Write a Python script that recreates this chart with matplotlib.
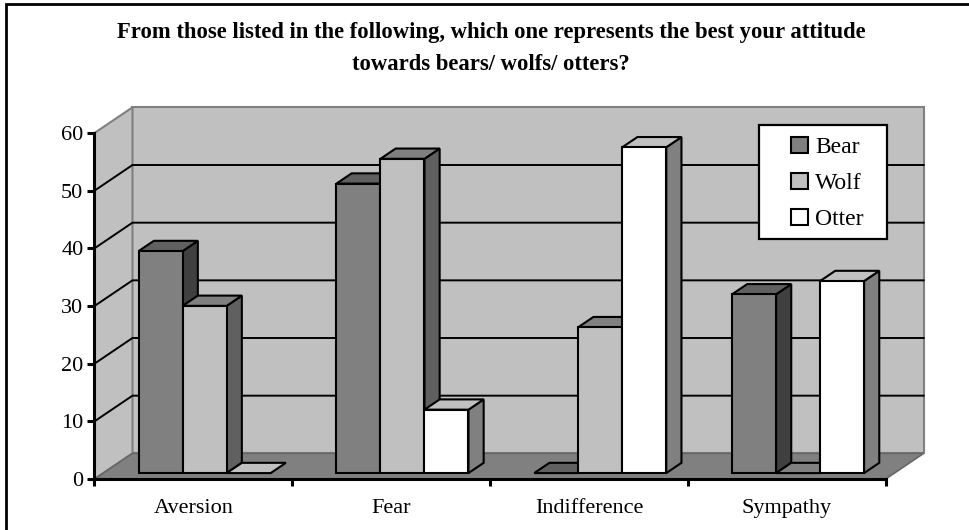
import numpy as np
import matplotlib
matplotlib.use("Agg")
import matplotlib.pyplot as plt
from matplotlib.lines import Line2D
from matplotlib.patches import Polygon, Rectangle

categories = ["Aversion", "Fear", "Indifference", "Sympathy"]
series_names = ["Bear", "Wolf", "Otter"]
bear = [38.5, 50.2, 0, 31]
wolf = [29, 54.5, 25.3, 0]
otter = [0, 11, 56.5, 33.3]
y_ticks = [0, 10, 20, 30, 40, 50, 60]

title = ("From those listed in the following, which one represents the best your attitude\n"
         "towards bears/ wolfs/ otters?")

# front, top and side shades for each series
front_colors = ["#808080", "#c0c0c0", "#ffffff"]
top_colors = ["#606060", "#808080", "#c0c0c0"]
side_colors = ["#404040", "#606060", "#808080"]

# how far the back of the chart box is shifted, in data units
DEPTH_X = 0.192
DEPTH_Y = 4.45
BAR_WIDTH = 0.2225
GROUP_START = 0.179
BAR_FRONT = 0.23
BAR_BACK = 0.63

W, H = 970, 530

plt.rcParams["font.family"] = ["Liberation Serif", "DejaVu Serif"]


def project(x, y, d):
    """Shift a point of the chart box back by depth d (0 front, 1 back)"""
    return (x + d * DEPTH_X, y + d * DEPTH_Y)


def fx(px):
    return px / W


def fy(py):
    return 1 - py / H


def draw_bar(ax, left, value, color_index, z):
    right = left + BAR_WIDTH
    style = dict(edgecolor="black", linewidth=1.5, joinstyle="miter", zorder=z)
    if value > 0:
        side = [project(right, 0, BAR_FRONT), project(right, 0, BAR_BACK),
                project(right, value, BAR_BACK), project(right, value, BAR_FRONT)]
        ax.add_patch(Polygon(side, facecolor=side_colors[color_index], clip_on=False, **style))
    top = [project(left, value, BAR_FRONT), project(right, value, BAR_FRONT),
           project(right, value, BAR_BACK), project(left, value, BAR_BACK)]
    ax.add_patch(Polygon(top, facecolor=top_colors[color_index], clip_on=False, **style))
    if value > 0:
        front = [project(left, 0, BAR_FRONT), project(right, 0, BAR_FRONT),
                 project(right, value, BAR_FRONT), project(left, value, BAR_FRONT)]
        ax.add_patch(Polygon(front, facecolor=front_colors[color_index], clip_on=False, **style))


def draw_legend(fig):
    # white key box with one swatch and label per series
    fig.add_artist(Rectangle((fx(759), fy(239)), 128 / W, 114 / H, facecolor="white",
                             edgecolor="black", linewidth=1.6, zorder=30,
                             transform=fig.transFigure))
    for k, name in enumerate(series_names):
        mid = 145 + 36 * k
        fig.add_artist(Rectangle((fx(791), fy(mid + 8)), 17 / W, 16 / H,
                                 facecolor=front_colors[k], edgecolor="black", linewidth=1.5,
                                 zorder=31, transform=fig.transFigure))
        fig.text(fx(815), fy(mid), name, fontsize=17, va="center_baseline", zorder=31)


def main():
    fig = plt.figure(figsize=(W / 100, H / 100), dpi=100)
    ax = fig.add_axes([fx(94.5), fy(479), 791.2 / W, 346 / H])
    ax.set_xlim(0, 4)
    ax.set_ylim(0, 60)
    ax.patch.set_visible(False)

    # frame of the chart area, only its left and top sides show
    fig.add_artist(Line2D([fx(6), fx(6), 1], [0, fy(3.5), fy(3.5)], color="black", linewidth=2.0,
                          solid_joinstyle="miter", transform=fig.transFigure))

    n = len(categories)
    wall = dict(edgecolor="#808080", linewidth=1.5, joinstyle="miter", clip_on=False, zorder=1)
    ax.add_patch(Polygon([project(0, 0, 1), project(n, 0, 1), project(n, 60, 1), project(0, 60, 1)],
                         facecolor="#c0c0c0", **wall))
    ax.add_patch(Polygon([project(0, 0, 0), project(0, 0, 1), project(0, 60, 1), project(0, 60, 0)],
                         facecolor="#c0c0c0", **wall))
    ax.add_patch(Polygon([project(0, 0, 0), project(n, 0, 0), project(n, 0, 1), project(0, 0, 1)],
                         facecolor="#808080", edgecolor="#666666", linewidth=1.2,
                         clip_on=False, zorder=1.5))

    # gridlines run along the left wall and then across the back wall
    for v in y_ticks[1:-1]:
        xs, ys = zip(project(0, v, 0), project(0, v, 1), project(n, v, 1))
        ax.plot(xs, ys, color="black", linewidth=1.4, clip_on=False, zorder=2,
                solid_joinstyle="miter")

    all_series = [bear, wolf, otter]
    z = 3
    for i in range(n):
        for s, values in enumerate(all_series):
            draw_bar(ax, i + GROUP_START + s * BAR_WIDTH, values[i], s, z)
            z += 0.1

    for name in ["top", "right"]:
        ax.spines[name].set_visible(False)
    for name in ["left", "bottom"]:
        ax.spines[name].set_linewidth(2.2)
        ax.spines[name].set_zorder(20)

    ax.set_yticks(y_ticks)
    ax.set_xticks(np.arange(n + 1))
    ax.set_xticklabels([])
    ax.set_xticks(np.arange(n) + 0.5, minor=True)
    ax.set_xticklabels(categories, minor=True, fontsize=16)
    ax.tick_params(axis="y", length=5, width=2.2, labelsize=16, pad=3)
    ax.tick_params(axis="x", which="major", length=5, width=2.2)
    ax.tick_params(axis="x", which="minor", length=0, pad=14.5)

    draw_legend(fig)

    fig.text(fx(491), fy(48.5), title, ha="center", va="center", fontsize=16.3,
             fontweight="bold", linespacing=1.68)

    fig.savefig("out.png", dpi=100)


if __name__ == "__main__":
    main()
